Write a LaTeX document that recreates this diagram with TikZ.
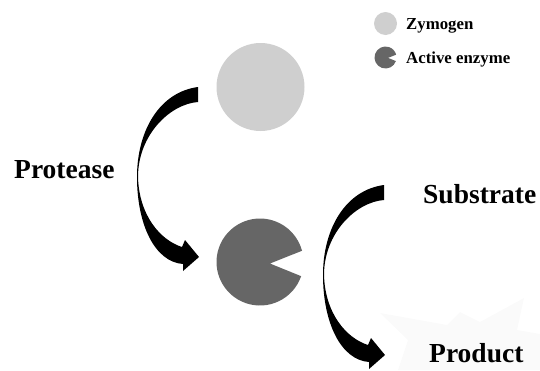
\documentclass[tikz,border=0pt]{standalone}
\usepackage{fontspec}
\setmainfont{Liberation Serif}
\definecolor{zymo}{HTML}{CFCFCF}
\definecolor{enzyme}{HTML}{666666}
\definecolor{burst}{HTML}{FAFAFA}
\begin{document}
\begin{tikzpicture}[x=1pt,y=-1pt,
  bigtext/.style={font=\fontsize{27.5}{30}\selectfont\bfseries, inner sep=0pt, anchor=base west},
  smalltext/.style={font=\fontsize{16.8}{19}\selectfont\bfseries, inner sep=0pt, anchor=base west},
  zymocircle/.style={circle, fill=zymo, inner sep=0pt},
  pics/pacman/.style={code={
    \fill[enzyme] (0.23,0.035) -- (19:1) arc[start angle=19,end angle=345,radius=1] -- cycle;}},
  pics/bentarrow/.style={code={
    \fill[black] (0,0)
      .. controls (-38,5) and (-61,43) .. (-61,90)
      .. controls (-61,138) and (-43,175) .. (-15,177)
      -- (-15,184) -- (1,170) -- (-13,153) -- (-16,160)
      .. controls (-38,153) and (-59,128) .. (-60,90)
      .. controls (-60,48) and (-28,17) .. (0,15) -- cycle;}}
]
\useasboundingbox (0,0) rectangle (540,370);
% faint background burst
\fill[burst] (380,313) -- (447,325) -- (460,312) -- (480,322) -- (524,298)
  -- (517,330) -- (540,334) -- (540,370) -- (398,370) -- (408,340) -- cycle;
% legend
\node[zymocircle, minimum size=23pt] (legz) at (385.5,23.5) {};
\node[smalltext] (legzt) at (406,29) {Zymogen};
\coordinate (lege) at (385.5,57.5);
\pic[scale=11] at (lege) {pacman};
\node[smalltext] (leget) at (406,63) {Active enzyme};
% main circles
\node[zymocircle, minimum size=88pt] (zym) at (260.5,87) {};
\coordinate (enz) at (260,262);
\pic[scale=43.5] at (enz) {pacman};
% arrows
\coordinate (a1) at (198,87);
\pic at (a1) {bentarrow};
\coordinate (a2) at (384,185);
\pic at (a2) {bentarrow};
% labels
\node[bigtext] (prot) at (14,178) {Protease};
\node[bigtext] (subs) at (423,203) {Substrate};
\node[bigtext] (prod) at (429,362) {Product};
\end{tikzpicture}
\end{document}
